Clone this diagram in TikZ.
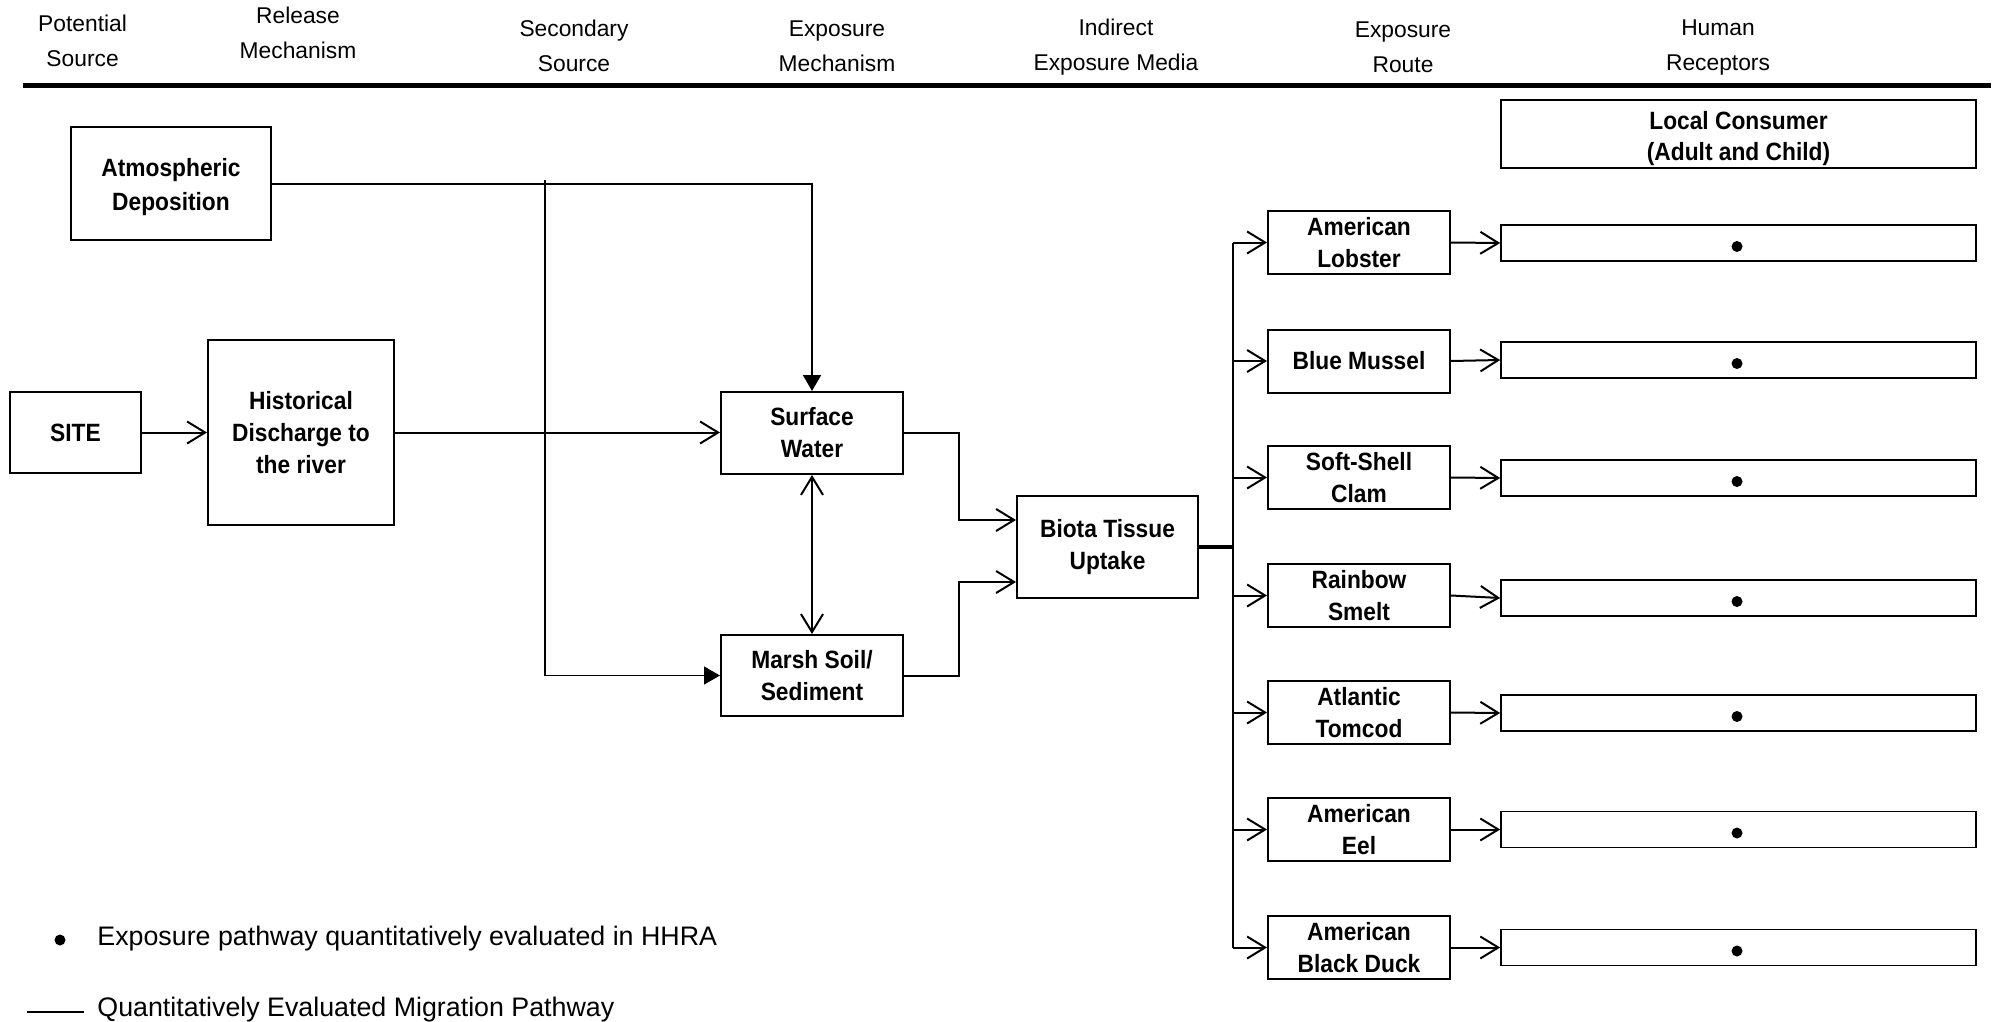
\documentclass[tikz,border=0pt]{standalone}
\usepackage{fontspec}
\setmainfont{Liberation Sans}
\newfontfamily\boxfont{Liberation Sans}[FakeStretch=0.91]
\usetikzlibrary{arrows.meta,calc}
\begin{document}
\begin{tikzpicture}[x=0.5pt,y=-0.5pt,
  bx/.style={draw,line width=1pt,align=center,inner sep=0pt,font=\boxfont\bfseries\fontsize{12.5pt}{16pt}\selectfont},
  sp/.style={bx,minimum width=91pt,minimum height=31.5pt},
  rc/.style={draw,line width=0.8pt,minimum width=237.5pt,minimum height=18pt,inner sep=0pt},
  hd/.style={align=center,inner sep=0pt,font=\fontsize{11.4pt}{17.5pt}\selectfont},
  lg/.style={anchor=base west,inner sep=0pt,font=\fontsize{13.4pt}{16pt}\selectfont},
  ln/.style={line width=1pt},
  oarr/.style={ln,-{Straight Barb[length=9pt,width=11pt]}},
  farr/.style={ln,-{Triangle[length=8pt,width=9pt]}},
]
\useasboundingbox (0,0) rectangle (1997,1022);
% headers
\node[hd] (h1) at (82.6,41) {Potential\\Source};
\node[hd] (h2) at (298,33) {Release\\Mechanism};
\node[hd] (h3) at (574,46) {Secondary\\Source};
\node[hd] (h4) at (837,46) {Exposure\\Mechanism};
\node[hd] (h5) at (1116,47.5) {Indirect\\Exposure Media};
\node[hd] (h6) at (1403,47.5) {Exposure\\Route};
\node[hd] (h7) at (1718,47.5) {Human\\Receptors};
\draw[line width=2.5pt] (23,85.5) -- (1991,85.5);
% main boxes
\node[bx,minimum width=100pt,minimum height=56.5pt,font=\boxfont\bfseries\fontsize{12.5pt}{17pt}\selectfont] (atm) at (171,183.5) {\rule{0pt}{12.9pt}Atmospheric\\Deposition};
\node[bx,minimum width=65.5pt,minimum height=40.5pt] (site) at (75.5,432.5) {SITE};
\node[bx,minimum width=93pt,minimum height=92.5pt] (hist) at (301,432.5) {Historical\\Discharge to\\the river};
\node[bx,minimum width=91pt,minimum height=41pt] (sw) at (812,433) {Surface\\Water};
\node[bx,minimum width=91pt,minimum height=40.5pt] (marsh) at (812,675.5) {Marsh Soil/\\Sediment};
\node[bx,minimum width=90.5pt,minimum height=51pt] (biota) at (1107.5,547) {Biota Tissue\\Uptake};
\node[bx,line width=0.8pt,minimum width=237.5pt,minimum height=34pt,font=\boxfont\bfseries\fontsize{12.5pt}{15.5pt}\selectfont] (lc) at (1738.5,134) {\rule{0pt}{13.6pt}Local Consumer\\(Adult and Child)};
% species
\node[sp] (s1) at (1359,242.5) {American\\Lobster};
\node[sp] (s2) at (1359,361) {Blue Mussel};
\node[sp] (s3) at (1359,477.5) {Soft-Shell\\Clam};
\node[sp] (s4) at (1359,595.5) {Rainbow\\Smelt};
\node[sp] (s5) at (1359,712.5) {Atlantic\\Tomcod};
\node[sp] (s6) at (1359,829.5) {American\\Eel};
\node[sp] (s7) at (1359,947.5) {American\\Black Duck};
% receptors
\node[rc] (r1) at (1738.5,243) {};
\node[rc] (r2) at (1738.5,360) {};
\node[rc] (r3) at (1738.5,478) {};
\node[rc] (r4) at (1738.5,598) {};
\node[rc] (r5) at (1738.5,713) {};
\node[rc] (r6) at (1738.5,829.5) {};
\node[rc] (r7) at (1738.5,947.5) {};
\foreach \y in {243,360,478,598,713,829.5,947.5}
  \fill ($(1737,\y)+(0,3.5)$) circle (5.5);
% connectors
\draw[oarr] (site.east) -- (hist.west);
\draw[oarr] (hist.east) -- (hist.east -| sw.west);
\draw[farr] (atm.east) -| (sw.north);
\coordinate (br) at (545,180);
\draw[line width=0.6pt,-{Triangle[length=8pt,width=9pt]}] (br) |- (marsh.west);
\draw[ln,{Straight Barb[length=9pt,width=11pt]}-{Straight Barb[length=9pt,width=11pt]}] (sw.south) -- (marsh.north);
\coordinate (j1) at (959,520);
\coordinate (j2) at (959,582);
\draw[oarr] (sw.east) -| (j1) -- (j1 -| biota.west);
\draw[oarr] (marsh.east) -| (j2) -- (j2 -| biota.west);
\coordinate (bt) at (1233,242.5);
\coordinate (bb) at (1233,947.5);
\draw[ln] (bt) -- (bb);
\draw[line width=1.8pt] (biota.east) -- (biota.east -| bt);
\foreach \s in {s1,s2,s3,s4,s5,s6,s7}
  \draw[oarr] (\s.west -| bt) -- (\s.west);
\foreach \s/\r in {s1/r1,s2/r2,s3/r3,s4/r4,s5/r5,s6/r6,s7/r7}
  \draw[oarr] (\s.east) -- (\r.west);
% legend
\fill (60,940) circle (5.5);
\node[lg] (l1) at (97,945) {Exposure pathway quantitatively evaluated in HHRA};
\coordinate (la) at (26.5,1012);
\coordinate (lb) at (84,1012);
\draw[ln] (la) -- (lb);
\node[lg] (l2) at (97,1016) {Quantitatively Evaluated Migration Pathway};
\end{tikzpicture}
\end{document}
